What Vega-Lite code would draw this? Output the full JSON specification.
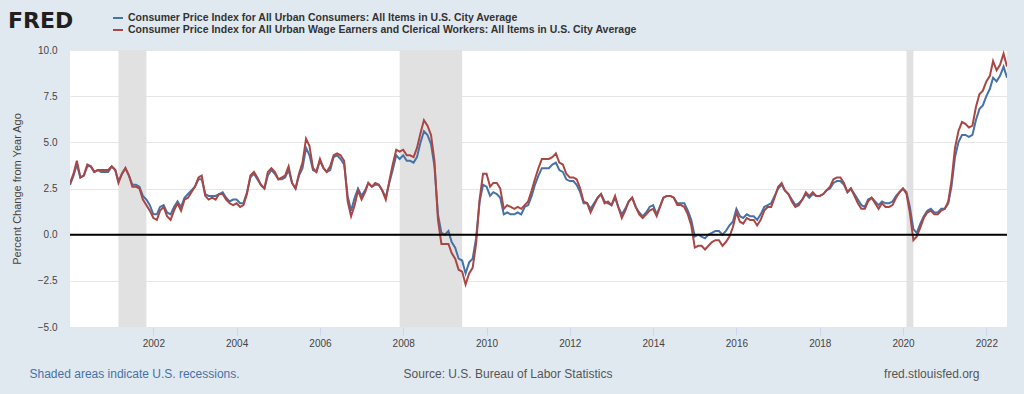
{
  "$schema": "https://vega.github.io/schema/vega-lite/v6.json",
  "width": 937,
  "height": 277,
  "autosize": {"type": "none"},
  "padding": {"left": 70, "top": 50, "right": 17, "bottom": 67},
  "background": "#e1e9f0",
  "config": {"view": {"fill": "white", "stroke": null}, "font": "Liberation Sans"},
  "title": {"text": "FRED", "anchor": "start", "frame": "group", "dx": -62, "dy": 18, "offset": -20, "fontSize": 22, "fontWeight": "bold", "font": "DejaVu Sans", "color": "#231f20", "baseline": "alphabetic"},
  "layer": [
    {
      "data": {"values": [
        {"start": "2001-03", "end": "2001-11"},
        {"start": "2007-12", "end": "2009-06"},
        {"start": "2020-02", "end": "2020-04"}
      ], "format": {"parse": {"start": "utc:'%Y-%m'", "end": "utc:'%Y-%m'"}}},
      "mark": {"type": "rect", "color": "#e1e1e1"},
      "encoding": {
        "x": {"field": "start", "type": "temporal",
          "scale": {"type": "utc", "domain": [{"year": 2000, "month": 1, "date": 1, "utc": true}, {"year": 2022, "month": 7, "date": 1, "utc": true}]},
          "axis": {"orient": "bottom", "labels": false, "ticks": false, "domain": false, "grid": false,
            "title": "Shaded areas indicate U.S. recessions.", "titleColor": "#4572a7", "titleFontSize": 12, "titleFontWeight": "normal",
            "titleX": -41, "titleY": 46, "titleAlign": "left", "titleBaseline": "middle", "titleAngle": 0}},
        "x2": {"field": "end"}
      }
    },
    {
      "data": {"values": [
{"d":"2000-01","u":2.7,"w":2.8},{"d":"2000-02","u":3.2,"w":3.3},{"d":"2000-03","u":3.8,"w":4.0},{"d":"2000-04","u":3.1,"w":3.1},{"d":"2000-05","u":3.2,"w":3.2},{"d":"2000-06","u":3.7,"w":3.8},{"d":"2000-07","u":3.7,"w":3.7},{"d":"2000-08","u":3.4,"w":3.4},{"d":"2000-09","u":3.5,"w":3.5},{"d":"2000-10","u":3.4,"w":3.5},{"d":"2000-11","u":3.4,"w":3.5},{"d":"2000-12","u":3.4,"w":3.5},
{"d":"2001-01","u":3.7,"w":3.7},{"d":"2001-02","u":3.5,"w":3.5},{"d":"2001-03","u":2.9,"w":2.8},{"d":"2001-04","u":3.3,"w":3.3},{"d":"2001-05","u":3.6,"w":3.6},{"d":"2001-06","u":3.2,"w":3.2},{"d":"2001-07","u":2.7,"w":2.6},{"d":"2001-08","u":2.7,"w":2.6},{"d":"2001-09","u":2.6,"w":2.5},{"d":"2001-10","u":2.1,"w":1.9},{"d":"2001-11","u":1.9,"w":1.6},{"d":"2001-12","u":1.6,"w":1.3},
{"d":"2002-01","u":1.1,"w":0.9},{"d":"2002-02","u":1.1,"w":0.8},{"d":"2002-03","u":1.5,"w":1.3},{"d":"2002-04","u":1.6,"w":1.5},{"d":"2002-05","u":1.2,"w":1.0},{"d":"2002-06","u":1.1,"w":0.8},{"d":"2002-07","u":1.5,"w":1.3},{"d":"2002-08","u":1.8,"w":1.7},{"d":"2002-09","u":1.5,"w":1.3},{"d":"2002-10","u":2.0,"w":1.9},{"d":"2002-11","u":2.2,"w":2.0},{"d":"2002-12","u":2.4,"w":2.3},
{"d":"2003-01","u":2.6,"w":2.6},{"d":"2003-02","u":3.0,"w":3.1},{"d":"2003-03","u":3.0,"w":3.2},{"d":"2003-04","u":2.2,"w":2.1},{"d":"2003-05","u":2.1,"w":1.9},{"d":"2003-06","u":2.1,"w":2.0},{"d":"2003-07","u":2.1,"w":1.9},{"d":"2003-08","u":2.2,"w":2.2},{"d":"2003-09","u":2.3,"w":2.2},{"d":"2003-10","u":2.0,"w":1.9},{"d":"2003-11","u":1.8,"w":1.7},{"d":"2003-12","u":1.9,"w":1.6},
{"d":"2004-01","u":1.9,"w":1.7},{"d":"2004-02","u":1.7,"w":1.5},{"d":"2004-03","u":1.7,"w":1.6},{"d":"2004-04","u":2.3,"w":2.2},{"d":"2004-05","u":3.1,"w":3.2},{"d":"2004-06","u":3.3,"w":3.4},{"d":"2004-07","u":3.0,"w":3.1},{"d":"2004-08","u":2.7,"w":2.7},{"d":"2004-09","u":2.5,"w":2.5},{"d":"2004-10","u":3.2,"w":3.4},{"d":"2004-11","u":3.5,"w":3.6},{"d":"2004-12","u":3.3,"w":3.4},
{"d":"2005-01","u":3.0,"w":3.0},{"d":"2005-02","u":3.0,"w":3.1},{"d":"2005-03","u":3.1,"w":3.2},{"d":"2005-04","u":3.5,"w":3.7},{"d":"2005-05","u":2.8,"w":2.8},{"d":"2005-06","u":2.5,"w":2.5},{"d":"2005-07","u":3.2,"w":3.3},{"d":"2005-08","u":3.6,"w":3.9},{"d":"2005-09","u":4.7,"w":5.2},{"d":"2005-10","u":4.3,"w":4.8},{"d":"2005-11","u":3.5,"w":3.6},{"d":"2005-12","u":3.4,"w":3.4},
{"d":"2006-01","u":4.0,"w":4.1},{"d":"2006-02","u":3.6,"w":3.6},{"d":"2006-03","u":3.4,"w":3.4},{"d":"2006-04","u":3.5,"w":3.7},{"d":"2006-05","u":4.2,"w":4.3},{"d":"2006-06","u":4.3,"w":4.4},{"d":"2006-07","u":4.1,"w":4.3},{"d":"2006-08","u":3.8,"w":4.0},{"d":"2006-09","u":2.1,"w":1.8},{"d":"2006-10","u":1.3,"w":1.0},{"d":"2006-11","u":2.0,"w":1.6},{"d":"2006-12","u":2.5,"w":2.4},
{"d":"2007-01","u":2.1,"w":1.9},{"d":"2007-02","u":2.4,"w":2.3},{"d":"2007-03","u":2.8,"w":2.8},{"d":"2007-04","u":2.6,"w":2.6},{"d":"2007-05","u":2.7,"w":2.8},{"d":"2007-06","u":2.7,"w":2.7},{"d":"2007-07","u":2.4,"w":2.4},{"d":"2007-08","u":2.0,"w":1.9},{"d":"2007-09","u":2.8,"w":2.9},{"d":"2007-10","u":3.5,"w":3.8},{"d":"2007-11","u":4.3,"w":4.6},{"d":"2007-12","u":4.1,"w":4.5},
{"d":"2008-01","u":4.3,"w":4.6},{"d":"2008-02","u":4.0,"w":4.3},{"d":"2008-03","u":4.0,"w":4.3},{"d":"2008-04","u":3.9,"w":4.2},{"d":"2008-05","u":4.2,"w":4.7},{"d":"2008-06","u":5.0,"w":5.5},{"d":"2008-07","u":5.6,"w":6.2},{"d":"2008-08","u":5.4,"w":5.9},{"d":"2008-09","u":4.9,"w":5.4},{"d":"2008-10","u":3.7,"w":4.0},{"d":"2008-11","u":1.1,"w":0.8},{"d":"2008-12","u":0.1,"w":-0.5},
{"d":"2009-01","u":0.0,"w":-0.5},{"d":"2009-02","u":0.2,"w":-0.5},{"d":"2009-03","u":-0.4,"w":-1.0},{"d":"2009-04","u":-0.7,"w":-1.3},{"d":"2009-05","u":-1.3,"w":-1.9},{"d":"2009-06","u":-1.4,"w":-2.0},{"d":"2009-07","u":-2.1,"w":-2.7},{"d":"2009-08","u":-1.5,"w":-2.1},{"d":"2009-09","u":-1.3,"w":-1.8},{"d":"2009-10","u":-0.2,"w":-0.5},{"d":"2009-11","u":1.8,"w":1.9},{"d":"2009-12","u":2.7,"w":3.3},
{"d":"2010-01","u":2.6,"w":3.3},{"d":"2010-02","u":2.1,"w":2.6},{"d":"2010-03","u":2.3,"w":2.8},{"d":"2010-04","u":2.2,"w":2.8},{"d":"2010-05","u":2.0,"w":2.5},{"d":"2010-06","u":1.1,"w":1.4},{"d":"2010-07","u":1.2,"w":1.6},{"d":"2010-08","u":1.1,"w":1.5},{"d":"2010-09","u":1.1,"w":1.4},{"d":"2010-10","u":1.2,"w":1.5},{"d":"2010-11","u":1.1,"w":1.4},{"d":"2010-12","u":1.5,"w":1.6},
{"d":"2011-01","u":1.6,"w":1.8},{"d":"2011-02","u":2.1,"w":2.4},{"d":"2011-03","u":2.7,"w":3.0},{"d":"2011-04","u":3.2,"w":3.6},{"d":"2011-05","u":3.6,"w":4.1},{"d":"2011-06","u":3.6,"w":4.1},{"d":"2011-07","u":3.6,"w":4.1},{"d":"2011-08","u":3.8,"w":4.2},{"d":"2011-09","u":3.9,"w":4.4},{"d":"2011-10","u":3.5,"w":3.9},{"d":"2011-11","u":3.4,"w":3.8},{"d":"2011-12","u":3.0,"w":3.3},
{"d":"2012-01","u":2.9,"w":3.1},{"d":"2012-02","u":2.9,"w":3.1},{"d":"2012-03","u":2.7,"w":3.0},{"d":"2012-04","u":2.3,"w":2.5},{"d":"2012-05","u":1.7,"w":1.8},{"d":"2012-06","u":1.7,"w":1.7},{"d":"2012-07","u":1.4,"w":1.2},{"d":"2012-08","u":1.7,"w":1.6},{"d":"2012-09","u":2.0,"w":2.0},{"d":"2012-10","u":2.2,"w":2.2},{"d":"2012-11","u":1.8,"w":1.7},{"d":"2012-12","u":1.7,"w":1.8},
{"d":"2013-01","u":1.6,"w":1.6},{"d":"2013-02","u":2.0,"w":2.1},{"d":"2013-03","u":1.5,"w":1.5},{"d":"2013-04","u":1.1,"w":0.9},{"d":"2013-05","u":1.4,"w":1.3},{"d":"2013-06","u":1.8,"w":1.8},{"d":"2013-07","u":2.0,"w":2.0},{"d":"2013-08","u":1.5,"w":1.5},{"d":"2013-09","u":1.2,"w":1.1},{"d":"2013-10","u":1.0,"w":0.9},{"d":"2013-11","u":1.2,"w":1.1},{"d":"2013-12","u":1.5,"w":1.3},
{"d":"2014-01","u":1.6,"w":1.4},{"d":"2014-02","u":1.1,"w":1.0},{"d":"2014-03","u":1.5,"w":1.5},{"d":"2014-04","u":2.0,"w":2.0},{"d":"2014-05","u":2.1,"w":2.1},{"d":"2014-06","u":2.1,"w":2.1},{"d":"2014-07","u":2.0,"w":2.0},{"d":"2014-08","u":1.7,"w":1.6},{"d":"2014-09","u":1.7,"w":1.6},{"d":"2014-10","u":1.7,"w":1.5},{"d":"2014-11","u":1.3,"w":1.1},{"d":"2014-12","u":0.8,"w":0.5},
{"d":"2015-01","u":-0.1,"w":-0.7},{"d":"2015-02","u":0.0,"w":-0.6},{"d":"2015-03","u":-0.1,"w":-0.6},{"d":"2015-04","u":-0.2,"w":-0.8},{"d":"2015-05","u":0.0,"w":-0.6},{"d":"2015-06","u":0.1,"w":-0.4},{"d":"2015-07","u":0.2,"w":-0.3},{"d":"2015-08","u":0.2,"w":-0.3},{"d":"2015-09","u":0.0,"w":-0.6},{"d":"2015-10","u":0.2,"w":-0.4},{"d":"2015-11","u":0.5,"w":-0.1},{"d":"2015-12","u":0.7,"w":0.4},
{"d":"2016-01","u":1.4,"w":1.2},{"d":"2016-02","u":1.0,"w":0.7},{"d":"2016-03","u":0.9,"w":0.6},{"d":"2016-04","u":1.1,"w":0.9},{"d":"2016-05","u":1.0,"w":0.8},{"d":"2016-06","u":1.0,"w":0.8},{"d":"2016-07","u":0.8,"w":0.5},{"d":"2016-08","u":1.1,"w":0.8},{"d":"2016-09","u":1.5,"w":1.3},{"d":"2016-10","u":1.6,"w":1.5},{"d":"2016-11","u":1.7,"w":1.5},{"d":"2016-12","u":2.1,"w":2.0},
{"d":"2017-01","u":2.5,"w":2.6},{"d":"2017-02","u":2.7,"w":2.8},{"d":"2017-03","u":2.4,"w":2.4},{"d":"2017-04","u":2.2,"w":2.2},{"d":"2017-05","u":1.9,"w":1.8},{"d":"2017-06","u":1.6,"w":1.5},{"d":"2017-07","u":1.7,"w":1.6},{"d":"2017-08","u":1.9,"w":1.9},{"d":"2017-09","u":2.2,"w":2.3},{"d":"2017-10","u":2.0,"w":2.1},{"d":"2017-11","u":2.2,"w":2.3},{"d":"2017-12","u":2.1,"w":2.1},
{"d":"2018-01","u":2.1,"w":2.1},{"d":"2018-02","u":2.2,"w":2.2},{"d":"2018-03","u":2.4,"w":2.4},{"d":"2018-04","u":2.5,"w":2.6},{"d":"2018-05","u":2.8,"w":3.0},{"d":"2018-06","u":2.9,"w":3.1},{"d":"2018-07","u":2.9,"w":3.1},{"d":"2018-08","u":2.7,"w":2.8},{"d":"2018-09","u":2.3,"w":2.3},{"d":"2018-10","u":2.5,"w":2.5},{"d":"2018-11","u":2.2,"w":2.1},{"d":"2018-12","u":1.9,"w":1.7},
{"d":"2019-01","u":1.6,"w":1.4},{"d":"2019-02","u":1.5,"w":1.4},{"d":"2019-03","u":1.9,"w":1.8},{"d":"2019-04","u":2.0,"w":2.0},{"d":"2019-05","u":1.8,"w":1.7},{"d":"2019-06","u":1.6,"w":1.4},{"d":"2019-07","u":1.8,"w":1.7},{"d":"2019-08","u":1.7,"w":1.5},{"d":"2019-09","u":1.7,"w":1.5},{"d":"2019-10","u":1.8,"w":1.6},{"d":"2019-11","u":2.1,"w":2.0},{"d":"2019-12","u":2.3,"w":2.3},
{"d":"2020-01","u":2.5,"w":2.5},{"d":"2020-02","u":2.3,"w":2.2},{"d":"2020-03","u":1.5,"w":1.2},{"d":"2020-04","u":0.3,"w":-0.3},{"d":"2020-05","u":0.1,"w":-0.1},{"d":"2020-06","u":0.6,"w":0.4},{"d":"2020-07","u":1.0,"w":0.9},{"d":"2020-08","u":1.3,"w":1.2},{"d":"2020-09","u":1.4,"w":1.3},{"d":"2020-10","u":1.2,"w":1.1},{"d":"2020-11","u":1.2,"w":1.1},{"d":"2020-12","u":1.4,"w":1.3},
{"d":"2021-01","u":1.4,"w":1.4},{"d":"2021-02","u":1.7,"w":1.8},{"d":"2021-03","u":2.6,"w":2.9},{"d":"2021-04","u":4.2,"w":4.7},{"d":"2021-05","u":5.0,"w":5.6},{"d":"2021-06","u":5.4,"w":6.1},{"d":"2021-07","u":5.4,"w":6.0},{"d":"2021-08","u":5.3,"w":5.8},{"d":"2021-09","u":5.4,"w":5.9},{"d":"2021-10","u":6.2,"w":6.9},{"d":"2021-11","u":6.8,"w":7.6},{"d":"2021-12","u":7.0,"w":7.8},
{"d":"2022-01","u":7.5,"w":8.3},{"d":"2022-02","u":7.9,"w":8.6},{"d":"2022-03","u":8.5,"w":9.4},{"d":"2022-04","u":8.3,"w":8.9},{"d":"2022-05","u":8.6,"w":9.2},{"d":"2022-06","u":9.1,"w":9.8},{"d":"2022-07","u":8.5,"w":9.1}
      ], "format": {"parse": {"d": "utc:'%Y-%m'"}}},
      "transform": [{"fold": ["u", "w"], "as": ["series", "value"]}],
      "mark": {"type": "line", "strokeWidth": 2, "clip": true},
      "encoding": {
        "x": {"field": "d", "type": "temporal",
          "scale": {"type": "utc", "domain": [{"year": 2000, "month": 1, "date": 1, "utc": true}, {"year": 2022, "month": 7, "date": 1, "utc": true}]},
          "axis": {"orient": "bottom", "format": "%Y", "grid": false, "domain": false, "labelFlush": false, "labelOverlap": false,
            "values": [{"year": 2002, "utc": true}, {"year": 2004, "utc": true}, {"year": 2006, "utc": true}, {"year": 2008, "utc": true}, {"year": 2010, "utc": true}, {"year": 2012, "utc": true}, {"year": 2014, "utc": true}, {"year": 2016, "utc": true}, {"year": 2018, "utc": true}, {"year": 2020, "utc": true}, {"year": 2022, "utc": true}],
            "tickColor": "#ccd6eb", "tickSize": 8, "labelPadding": 3, "labelFontSize": 10, "labelColor": "#444444",
            "title": "Source: U.S. Bureau of Labor Statistics", "titleColor": "#555555", "titleFontSize": 12, "titleFontWeight": "normal",
            "titleX": 437.5, "titleY": 46, "titleAlign": "center", "titleBaseline": "middle", "titleAngle": 0}},
        "y": {"field": "value", "type": "quantitative",
          "scale": {"domain": [-5, 10], "nice": false, "zero": false},
          "axis": {"values": [-5, -2.5, 0, 2.5, 5, 7.5, 10], "format": ".1f", "ticks": false, "domain": false, "grid": true, "gridColor": "#e6e6e6",
            "labelPadding": 13, "labelFontSize": 10, "labelColor": "#444444",
            "title": "Percent Change from Year Ago", "titleFontSize": 11, "titleFontWeight": "normal", "titleColor": "#444444",
            "titleX": -53, "titleBaseline": "middle"}},
        "color": {"field": "series", "type": "nominal",
          "scale": {"domain": ["u", "w"], "range": ["#4572a7", "#aa4643"]},
          "legend": {"orient": "none", "legendX": 42, "legendY": -38, "direction": "vertical", "title": null,
            "symbolType": "stroke", "symbolSize": 100, "symbolStrokeWidth": 2, "rowPadding": 0, "padding": 0,
            "labelFontSize": 10.5, "labelFontWeight": "bold", "labelColor": "#333333", "labelLimit": 0, "labelOffset": 4,
            "labelExpr": "datum.value == 'u' ? 'Consumer Price Index for All Urban Consumers: All Items in U.S. City Average' : 'Consumer Price Index for All Urban Wage Earners and Clerical Workers: All Items in U.S. City Average'"}}
      }
    },
    {
      "data": {"values": [{}]},
      "mark": {"type": "rule", "color": "#000000", "strokeWidth": 2},
      "encoding": {
        "y": {"datum": 0, "type": "quantitative",
          "axis": {"orient": "right", "labels": false, "ticks": false, "domain": false, "grid": false,
            "title": "fred.stlouisfed.org", "titleAngle": 0, "titleX": -28, "titleY": 323, "titleAlign": "right", "titleBaseline": "middle",
            "titleColor": "#555555", "titleFontSize": 12, "titleFontWeight": "normal"}}
      }
    }
  ],
  "resolve": {"axis": {"x": "independent", "y": "independent"}}
}
